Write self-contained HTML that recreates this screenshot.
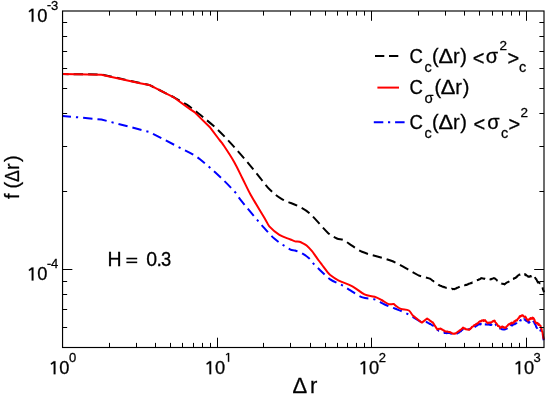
<!DOCTYPE html>
<html><head><meta charset="utf-8"><title>f(Δr)</title>
<style>
html,body{margin:0;padding:0;background:#fff;}
body{width:545px;height:399px;overflow:hidden;}
svg{display:block;will-change:transform;}
text{font-family:"Liberation Sans",sans-serif;fill:#000;stroke:#000;stroke-width:0.28px;}
</style></head><body>
<svg width="545" height="399" viewBox="0 0 545 399">
<rect x="0" y="0" width="545" height="399" fill="#fff"/>
<defs><clipPath id="cp"><rect x="62.55" y="11.0" width="482.45" height="336.5"/></clipPath></defs>

<g clip-path="url(#cp)" fill="none" stroke-width="2" stroke-linejoin="round">
<path d="M62.60,115.90 L101.40,119.50 L149.40,132.00 L190.00,152.90 C193.33,154.69 196.67,156.54 200.00,159.20 C206.73,164.57 213.47,170.64 220.20,177.00 C225.57,182.07 230.93,187.48 236.30,193.50 C237.53,194.88 238.77,197.63 240.00,199.20 C244.83,205.36 249.67,210.91 254.50,216.70 C256.40,218.98 258.30,221.31 260.20,223.40 C264.90,228.57 269.60,234.44 274.30,238.50 C279.70,243.17 285.10,246.47 290.50,249.60 C292.00,250.47 293.50,249.99 295.00,250.50 C297.53,251.36 300.07,252.28 302.60,253.70 C304.93,255.01 307.27,256.59 309.60,258.70 C310.73,259.72 311.87,261.86 313.00,263.10 C315.37,265.69 317.73,267.97 320.10,270.20 C323.47,273.37 326.83,277.01 330.20,279.30 C334.23,282.04 338.27,283.08 342.30,285.30 C345.00,286.78 347.70,288.78 350.40,290.40 C354.43,292.82 358.47,295.90 362.50,297.40 C366.53,298.90 370.57,298.11 374.60,299.40 C377.97,300.48 381.33,302.98 384.70,304.50 C388.07,306.02 391.43,307.12 394.80,308.50 C398.83,310.15 402.87,311.55 406.90,313.60 L420.00,321.30 L426.40,322.00 L426.86,322.27 L427.31,322.43 L427.77,322.68 L428.23,323.03 L428.69,323.36 L429.14,323.34 L429.60,323.84 L430.06,324.08 L430.51,324.11 L430.97,324.38 L431.43,324.62 L431.89,325.00 L432.34,325.29 L432.80,325.50 L433.25,325.69 L433.70,326.13 L434.15,326.73 L434.60,327.28 L435.05,327.68 L435.50,328.00 L435.95,328.37 L436.40,329.02 L436.85,329.32 L437.30,330.05 L437.77,330.12 L438.25,330.28 L438.72,330.68 L439.19,330.72 L439.67,331.02 L440.14,331.08 L440.61,331.27 L441.09,331.46 L441.56,331.84 L442.03,331.74 L442.51,332.25 L442.98,332.40 L443.45,332.56 L443.93,332.52 L444.40,332.81 L444.88,333.12 L445.37,333.02 L445.85,332.96 L446.33,332.81 L446.82,333.25 L447.30,332.93 L447.78,333.12 L448.27,333.12 L448.75,333.06 L449.23,333.06 L449.72,333.06 L450.20,333.18 L450.72,333.59 L451.24,333.40 L451.76,333.71 L452.28,333.84 L452.80,334.11 L453.29,333.94 L453.78,333.72 L454.27,333.49 L454.76,333.73 L455.24,333.55 L455.73,333.91 L456.22,333.58 L456.71,333.63 L457.20,333.56 L457.69,333.17 L458.18,332.90 L458.66,332.50 L459.15,332.40 L459.64,331.70 L460.12,331.47 L460.61,331.46 L461.10,331.17 L461.58,330.18 L462.05,330.03 L462.52,329.51 L463.00,328.84 L463.47,329.20 L463.95,329.35 L464.42,329.34 L464.89,329.02 L465.36,328.99 L465.84,328.93 L466.31,329.34 L466.78,329.63 L467.25,329.64 L467.73,329.65 L468.20,329.26 L468.68,329.12 L469.15,329.26 L469.62,329.02 L470.10,328.31 L470.57,328.31 L471.05,328.01 L471.52,327.71 L472.00,328.11 L472.47,328.05 L472.95,327.40 L473.42,327.33 L473.90,327.24 L474.38,326.55 L474.87,326.40 L475.35,326.66 L475.83,325.88 L476.32,325.80 L476.80,325.69 L477.28,325.43 L477.77,324.92 L478.25,324.49 L478.73,324.17 L479.22,324.39 L479.70,323.85 L480.16,323.72 L480.62,324.40 L481.08,323.80 L481.54,324.33 L482.00,324.60 L482.46,323.96 L482.92,324.60 L483.38,324.64 L483.84,324.02 L484.30,324.56 L484.76,324.39 L485.22,324.39 L485.68,324.26 L486.14,324.53 L486.60,324.46 L487.06,324.67 L487.53,324.42 L487.99,324.46 L488.45,324.08 L488.92,324.75 L489.38,324.47 L489.85,324.64 L490.31,324.96 L490.77,324.14 L491.24,324.88 L491.70,324.49 L492.22,323.84 L492.74,323.50 L493.26,323.38 L493.78,323.34 L494.30,322.33 L494.78,323.42 L495.25,323.48 L495.73,324.41 L496.20,325.39 L496.68,325.78 L497.15,326.85 L497.62,326.63 L498.10,327.42 L498.56,327.57 L499.01,328.43 L499.47,328.10 L499.93,328.54 L500.39,328.24 L500.84,328.50 L501.30,328.82 L501.76,329.17 L502.21,329.27 L502.67,329.27 L503.13,329.50 L503.59,329.27 L504.04,329.13 L504.50,329.45 L504.95,329.16 L505.40,329.28 L505.85,328.83 L506.30,328.33 L506.75,328.63 L507.20,327.41 L507.65,327.38 L508.10,326.72 L508.55,327.10 L509.00,326.19 L509.47,325.73 L509.95,325.88 L510.42,325.93 L510.89,325.25 L511.37,325.29 L511.84,324.63 L512.31,325.42 L512.79,324.94 L513.26,324.16 L513.73,324.37 L514.21,324.18 L514.68,324.23 L515.15,323.29 L515.63,323.62 L516.10,323.40 L516.56,322.89 L517.01,321.94 L517.47,322.07 L517.93,321.55 L518.39,321.37 L518.84,320.25 L519.30,320.50 L519.78,319.64 L520.27,320.46 L520.75,320.05 L521.23,320.29 L521.72,319.23 L522.20,319.75 L522.68,319.10 L523.17,319.27 L523.65,320.04 L524.13,319.17 L524.62,319.69 L525.10,319.96 L525.58,319.87 L526.05,320.72 L526.52,320.19 L527.00,321.27 L527.48,321.04 L527.95,321.18 L528.42,322.61 L528.90,322.77 L529.35,322.19 L529.80,321.87 L530.25,321.38 L530.70,322.19 L531.15,322.33 L531.60,322.14 L532.05,321.87 L532.50,321.76 L532.95,320.40 L533.40,321.39 L533.86,321.43 L534.31,322.74 L534.77,323.75 L535.23,324.27 L535.69,325.17 L536.14,326.68 L536.60,327.57 L537.12,328.09 L537.64,329.00 L538.16,328.51 L538.68,329.63 L539.20,330.25 L539.66,329.33 L540.11,330.43 L540.57,330.15 L541.03,330.99 L541.49,332.10 L541.94,331.20 L542.40,332.44 L543.05,336.34 L543.70,340.28" stroke="#0000ff" stroke-dasharray="9.4 5 9.4 5 2.2 5" stroke-dashoffset="15.4"/>
<path d="M62.60,74.10 L101.40,74.50 L149.20,84.90 L174.30,97.50 L186.40,104.40 C190.43,107.07 194.47,110.27 198.50,113.50 C204.40,118.23 210.30,122.88 216.20,128.30 C220.87,132.58 225.53,137.57 230.20,142.60 C235.27,148.07 240.33,153.83 245.40,159.80 C250.43,165.73 255.47,172.16 260.50,178.30 C263.67,182.16 266.83,186.71 270.00,189.80 C273.83,193.54 277.67,196.58 281.50,198.80 C287.23,202.12 292.97,203.40 298.70,206.40 C302.47,208.37 306.23,210.29 310.00,213.70 C316.00,219.13 322.00,227.37 328.00,232.90 C330.97,235.64 333.93,237.15 336.90,238.50 C339.07,239.48 341.23,238.99 343.40,239.90 C345.27,240.69 347.13,242.41 349.00,243.60 C353.33,246.37 357.67,250.04 362.00,251.80 C371.77,255.77 381.53,257.07 391.30,260.80 C396.73,262.87 402.17,266.29 407.60,269.20 L418.70,275.50 L429.90,278.60 L430.35,278.94 L430.81,279.18 L431.26,279.54 L431.71,279.85 L432.16,280.30 L432.62,280.58 L433.07,280.80 L433.52,281.24 L433.97,281.66 L434.43,282.03 L434.88,282.25 L435.33,282.58 L435.78,282.91 L436.24,283.24 L436.69,283.63 L437.14,283.75 L437.59,284.18 L438.05,284.51 L438.50,284.86 L438.96,285.02 L439.42,285.20 L439.88,285.66 L440.34,285.69 L440.80,285.90 L441.26,285.95 L441.72,286.16 L442.18,286.56 L442.64,286.80 L443.10,286.84 L443.56,286.83 L444.02,287.21 L444.48,287.06 L444.95,287.34 L445.41,287.56 L445.87,287.65 L446.33,287.70 L446.79,287.63 L447.25,287.78 L447.72,287.88 L448.18,287.97 L448.64,288.31 L449.10,288.41 L449.56,288.58 L450.03,288.56 L450.49,288.71 L450.95,288.65 L451.42,288.94 L451.88,288.65 L452.35,288.83 L452.81,289.18 L453.27,288.94 L453.74,289.12 L454.20,289.21 L454.66,288.88 L455.12,288.92 L455.58,288.41 L456.05,288.55 L456.51,288.25 L456.97,287.80 L457.43,287.85 L457.89,287.55 L458.35,287.27 L458.82,287.01 L459.28,286.96 L459.74,286.71 L460.20,286.37 L460.67,286.20 L461.14,286.29 L461.61,285.86 L462.08,285.79 L462.55,285.54 L463.02,285.67 L463.48,285.70 L463.95,285.33 L464.42,285.35 L464.89,285.27 L465.36,285.09 L465.83,284.80 L466.30,284.84 L466.77,284.90 L467.23,284.60 L467.70,284.24 L468.17,284.22 L468.63,283.77 L469.10,283.83 L469.57,283.65 L470.03,283.49 L470.50,283.10 L470.97,283.29 L471.43,283.10 L471.90,282.51 L472.37,282.73 L472.83,282.50 L473.30,282.06 L473.78,281.83 L474.25,281.77 L474.73,281.50 L475.21,281.22 L475.68,280.92 L476.16,280.75 L476.64,280.37 L477.11,280.20 L477.59,280.03 L478.06,280.11 L478.54,279.70 L479.02,279.31 L479.49,279.40 L479.97,279.16 L480.45,278.89 L480.92,278.26 L481.40,278.07 L481.87,278.34 L482.35,278.21 L482.82,278.55 L483.29,278.60 L483.77,278.68 L484.24,278.94 L484.71,278.75 L485.19,278.98 L485.66,279.29 L486.13,279.04 L486.61,279.25 L487.08,279.19 L487.55,279.58 L488.03,279.37 L488.50,279.61 L488.96,279.35 L489.42,279.65 L489.88,279.54 L490.35,279.33 L490.81,279.09 L491.27,279.23 L491.73,278.83 L492.19,278.63 L492.65,278.63 L493.12,278.43 L493.58,278.14 L494.04,278.10 L494.50,278.34 L494.96,278.51 L495.43,278.97 L495.89,279.32 L496.35,279.67 L496.82,280.20 L497.28,280.73 L497.75,281.01 L498.21,281.40 L498.67,282.10 L499.14,282.46 L499.60,283.09 L500.05,282.93 L500.51,283.37 L500.96,283.19 L501.42,283.58 L501.87,283.60 L502.33,283.72 L502.78,283.80 L503.24,283.99 L503.69,283.80 L504.15,284.09 L504.60,284.45 L505.07,283.93 L505.54,283.50 L506.01,283.18 L506.48,282.80 L506.95,282.43 L507.42,282.37 L507.88,282.08 L508.35,281.79 L508.82,281.56 L509.29,281.34 L509.76,281.00 L510.23,280.27 L510.70,279.92 L511.15,279.92 L511.61,279.61 L512.06,279.73 L512.52,278.99 L512.97,278.78 L513.43,278.91 L513.88,278.23 L514.34,278.55 L514.79,278.13 L515.25,277.74 L515.70,277.91 L516.16,277.29 L516.63,276.78 L517.09,276.68 L517.55,275.84 L518.02,275.51 L518.48,275.35 L518.95,274.90 L519.41,274.44 L519.87,274.63 L520.34,274.30 L520.80,273.64 L521.30,273.60 L521.80,273.78 L522.30,273.82 L522.80,273.99 L523.30,273.98 L523.80,274.29 L524.30,274.34 L524.80,274.03 L525.30,274.87 L525.80,274.52 L526.30,275.49 L526.80,275.38 L527.30,275.92 L527.80,276.10 L528.30,276.82 L528.80,276.48 L529.26,276.63 L529.73,276.71 L530.19,276.06 L530.65,276.05 L531.12,276.41 L531.58,276.26 L532.05,275.75 L532.51,275.69 L532.97,275.71 L533.44,275.00 L533.90,275.46 L534.40,276.01 L534.90,276.84 L535.40,278.15 L535.90,279.03 L536.40,279.20 L536.90,280.75 L537.40,281.22 L537.90,282.59 L538.42,282.09 L538.93,282.37 L539.45,282.87 L539.97,283.27 L540.48,283.08 L541.00,283.67 L541.50,285.14 L542.00,286.15 L542.50,287.51 L543.00,289.58 L543.50,290.61 L544.00,292.34" stroke="#000" stroke-dasharray="9.5 5" stroke-dashoffset="3.5"/>
<path d="M62.60,74.10 L101.40,74.80 L140.00,83.20 L149.20,84.90 L174.30,97.70 L190.00,109.10 L194.50,112.10 L210.40,127.80 L219.50,140.00 L222.30,143.40 C226.30,149.40 230.30,155.25 234.30,162.20 C237.03,166.95 239.77,173.05 242.50,178.50 C245.17,183.82 247.83,189.72 250.50,194.50 C255.53,203.52 260.57,211.36 265.60,219.90 C266.83,221.99 268.07,225.06 269.30,226.40 C272.67,230.06 276.03,232.82 279.40,234.90 C283.10,237.19 286.80,237.96 290.50,239.50 C292.00,240.12 293.50,241.02 295.00,241.40 C296.50,241.78 298.00,241.43 299.50,241.80 C300.70,242.10 301.90,242.76 303.10,243.40 C304.27,244.02 305.43,244.58 306.60,245.60 C308.40,247.18 310.20,249.11 312.00,251.20 C313.07,252.44 314.13,254.12 315.20,255.60 C316.37,257.22 317.53,258.91 318.70,260.50 C319.83,262.04 320.97,263.51 322.10,265.00 C323.83,267.28 325.57,269.66 327.30,271.80 C328.27,272.99 329.23,274.25 330.20,275.00 C332.90,277.09 335.60,278.93 338.30,280.30 C343.00,282.69 347.70,283.77 352.40,286.30 C356.43,288.47 360.47,292.49 364.50,294.40 C367.87,295.99 371.23,295.70 374.60,296.80 C376.93,297.56 379.27,298.79 381.60,300.00 C383.97,301.23 386.33,303.30 388.70,304.10 C390.40,304.67 392.10,303.80 393.80,304.10 C394.20,304.17 394.60,304.93 395.00,305.20 C396.93,306.53 398.87,308.16 400.80,308.90 C403.50,309.93 406.20,309.00 408.90,310.50 C410.23,311.24 411.57,314.30 412.90,315.60 L420.00,321.30 L421.90,322.60 L427.10,318.50 L427.58,318.89 L428.05,319.15 L428.53,319.48 L429.00,319.76 L429.48,320.17 L429.95,320.62 L430.43,320.99 L430.90,321.22 L431.38,321.65 L431.85,322.01 L432.32,322.15 L432.80,322.44 L433.25,323.22 L433.70,323.81 L434.15,324.60 L434.60,325.49 L435.05,326.02 L435.50,326.54 L435.95,327.47 L436.40,327.93 L436.85,328.83 L437.30,329.28 L437.76,329.42 L438.21,329.09 L438.67,328.87 L439.13,329.06 L439.59,328.73 L440.04,328.64 L440.50,328.51 L440.97,329.05 L441.45,328.97 L441.92,329.52 L442.39,329.53 L442.86,329.94 L443.34,330.41 L443.81,330.66 L444.28,330.61 L444.75,331.26 L445.23,331.27 L445.70,331.66 L446.18,331.61 L446.65,331.48 L447.12,331.53 L447.60,331.58 L448.07,331.82 L448.55,331.90 L449.02,332.13 L449.50,331.96 L449.97,332.05 L450.44,332.43 L450.91,332.76 L451.39,332.94 L451.86,333.11 L452.33,333.35 L452.80,333.81 L453.26,333.86 L453.71,333.59 L454.17,333.82 L454.63,333.69 L455.09,333.24 L455.54,333.56 L456.00,333.21 L456.48,332.89 L456.95,332.45 L457.43,332.05 L457.90,331.67 L458.38,331.46 L458.85,331.26 L459.32,330.52 L459.80,330.57 L460.26,329.95 L460.71,329.86 L461.17,329.37 L461.63,329.03 L462.09,328.55 L462.54,328.11 L463.00,327.53 L463.46,328.00 L463.91,328.23 L464.37,328.70 L464.83,328.39 L465.29,328.74 L465.74,329.22 L466.20,329.20 L466.66,329.41 L467.11,329.39 L467.57,329.34 L468.03,329.57 L468.49,329.87 L468.94,329.86 L469.40,329.70 L469.87,329.09 L470.34,329.10 L470.81,328.07 L471.29,328.12 L471.76,327.08 L472.23,326.94 L472.70,326.39 L473.16,326.41 L473.63,326.19 L474.09,325.24 L474.55,325.05 L475.02,324.87 L475.48,324.62 L475.95,324.13 L476.41,324.35 L476.87,323.52 L477.34,323.52 L477.80,322.92 L478.28,323.12 L478.75,322.05 L479.23,321.76 L479.70,321.49 L480.18,321.28 L480.65,321.49 L481.12,321.36 L481.60,320.41 L482.09,320.34 L482.57,320.41 L483.06,320.91 L483.54,320.12 L484.03,320.91 L484.51,320.71 L485.00,320.11 L485.52,320.79 L486.04,321.55 L486.56,322.11 L487.08,322.39 L487.60,323.34 L488.10,322.53 L488.60,322.83 L489.10,322.72 L489.60,322.52 L490.10,322.89 L490.60,322.28 L491.10,322.59 L491.56,322.17 L492.01,322.01 L492.47,321.66 L492.93,320.97 L493.39,321.22 L493.84,320.80 L494.30,320.46 L494.76,320.83 L495.21,322.14 L495.67,322.60 L496.13,322.96 L496.59,323.68 L497.04,324.26 L497.50,324.91 L497.96,326.02 L498.41,325.89 L498.87,326.15 L499.33,326.19 L499.79,327.35 L500.24,327.93 L500.70,327.55 L501.18,327.49 L501.65,327.06 L502.12,326.38 L502.60,326.46 L503.12,327.27 L503.64,326.99 L504.16,327.81 L504.68,327.45 L505.20,327.86 L505.68,327.90 L506.15,327.16 L506.62,326.36 L507.10,325.91 L507.57,325.80 L508.05,324.87 L508.52,324.50 L509.00,324.38 L509.49,323.71 L509.98,324.28 L510.46,324.15 L510.95,322.98 L511.44,322.93 L511.92,322.55 L512.41,323.40 L512.90,323.01 L513.35,322.54 L513.80,322.60 L514.25,321.28 L514.70,321.51 L515.15,320.82 L515.60,321.09 L516.05,320.30 L516.50,319.96 L516.95,320.49 L517.40,319.43 L517.92,318.79 L518.44,318.20 L518.96,317.98 L519.48,316.45 L520.00,316.05 L520.50,316.62 L521.00,315.69 L521.50,315.90 L522.00,315.17 L522.50,315.13 L522.96,315.32 L523.41,316.46 L523.87,316.27 L524.33,316.82 L524.79,316.97 L525.24,316.53 L525.70,317.11 L526.20,318.35 L526.70,319.16 L527.20,319.14 L527.70,320.59 L528.20,320.05 L528.70,320.21 L529.20,319.02 L529.70,318.76 L530.20,319.14 L530.66,318.04 L531.11,318.53 L531.57,318.72 L532.03,318.87 L532.49,317.64 L532.94,317.93 L533.40,318.05 L533.90,318.94 L534.40,319.60 L534.90,321.54 L535.40,322.08 L535.90,323.07 L536.40,322.89 L536.90,322.71 L537.40,323.79 L537.90,323.21 L538.42,324.95 L538.94,324.12 L539.46,324.97 L539.98,325.40 L540.50,325.69 L540.98,327.98 L541.45,328.51 L541.92,331.21 L542.40,331.84 L543.05,335.60 L543.70,339.38" stroke="#ff0000"/>
</g>
<path d="M109.50,347.5 v-4.6 M109.50,11.0 v4.6 M136.50,347.5 v-4.6 M136.50,11.0 v4.6 M155.50,347.5 v-4.6 M155.50,11.0 v4.6 M170.50,347.5 v-4.6 M170.50,11.0 v4.6 M182.50,347.5 v-4.6 M182.50,11.0 v4.6 M193.50,347.5 v-4.6 M193.50,11.0 v4.6 M202.50,347.5 v-4.6 M202.50,11.0 v4.6 M210.50,347.5 v-4.6 M210.50,11.0 v4.6 M217.50,347.5 v-9.8 M217.50,11.0 v9.8 M263.50,347.5 v-4.6 M263.50,11.0 v4.6 M290.50,347.5 v-4.6 M290.50,11.0 v4.6 M310.50,347.5 v-4.6 M310.50,11.0 v4.6 M325.50,347.5 v-4.6 M325.50,11.0 v4.6 M337.50,347.5 v-4.6 M337.50,11.0 v4.6 M347.50,347.5 v-4.6 M347.50,11.0 v4.6 M356.50,347.5 v-4.6 M356.50,11.0 v4.6 M364.50,347.5 v-4.6 M364.50,11.0 v4.6 M371.50,347.5 v-9.8 M371.50,11.0 v9.8 M418.50,347.5 v-4.6 M418.50,11.0 v4.6 M445.50,347.5 v-4.6 M445.50,11.0 v4.6 M464.50,347.5 v-4.6 M464.50,11.0 v4.6 M479.50,347.5 v-4.6 M479.50,11.0 v4.6 M492.50,347.5 v-4.6 M492.50,11.0 v4.6 M502.50,347.5 v-4.6 M502.50,11.0 v4.6 M511.50,347.5 v-4.6 M511.50,11.0 v4.6 M519.50,347.5 v-4.6 M519.50,11.0 v4.6 M526.50,347.5 v-9.8 M526.50,11.0 v9.8 M62.55,327.50 h4.6 M544.0,327.50 h-4.6 M62.55,309.50 h4.6 M544.0,309.50 h-4.6 M62.55,294.50 h4.6 M544.0,294.50 h-4.6 M62.55,281.50 h4.6 M544.0,281.50 h-4.6 M62.55,269.50 h9.8 M544.0,269.50 h-9.8 M62.55,191.50 h4.6 M544.0,191.50 h-4.6 M62.55,146.50 h4.6 M544.0,146.50 h-4.6 M62.55,113.50 h4.6 M544.0,113.50 h-4.6 M62.55,88.50 h4.6 M544.0,88.50 h-4.6 M62.55,68.50 h4.6 M544.0,68.50 h-4.6 M62.55,51.50 h4.6 M544.0,51.50 h-4.6 M62.55,36.50 h4.6 M544.0,36.50 h-4.6 M62.55,22.50 h4.6 M544.0,22.50 h-4.6" stroke="#000" stroke-width="1" fill="none"/>
<rect x="62.55" y="11.0" width="481.45" height="336.5" fill="none" stroke="#000" stroke-width="1.15"/>
<path d="M53.70,361.20 H55.45 V374.20 H53.70 V363.20 L51.15,364.70 L50.70,363.45 Z" fill="#000" stroke="#000" stroke-width="0.2"/><text x="59.30" y="374.20" font-size="18.3">0</text><text x="69.00" y="362.20" font-size="13">0</text>
<path d="M209.42,361.20 H211.17 V374.20 H209.42 V363.20 L206.87,364.70 L206.42,363.45 Z" fill="#000" stroke="#000" stroke-width="0.2"/><text x="215.02" y="374.20" font-size="18.3">0</text><path d="M227.92,352.90 H229.17 V361.80 H227.92 V354.27 L226.22,355.30 L225.91,354.44 Z" fill="#000" stroke="#000" stroke-width="0.2"/>
<path d="M363.43,361.20 H365.18 V374.20 H363.43 V363.20 L360.88,364.70 L360.43,363.45 Z" fill="#000" stroke="#000" stroke-width="0.2"/><text x="369.03" y="374.20" font-size="18.3">0</text><text x="378.63" y="362.20" font-size="13">2</text>
<path d="M518.45,361.20 H520.20 V374.20 H518.45 V363.20 L515.90,364.70 L515.45,363.45 Z" fill="#000" stroke="#000" stroke-width="0.2"/><text x="524.05" y="374.20" font-size="18.3">0</text><text x="533.50" y="362.20" font-size="13">3</text>
<path d="M31.70,8.80 H33.45 V21.80 H31.70 V10.80 L29.15,12.30 L28.70,11.05 Z" fill="#000" stroke="#000" stroke-width="0.2"/><text x="37.30" y="21.80" font-size="18.3">0</text><text x="51.05" y="9.80" font-size="13">3</text>
<rect x="47.3" y="5.05" width="3.5" height="1.25" fill="#000"/>
<path d="M31.70,267.44 H33.45 V280.44 H31.70 V269.44 L29.15,270.94 L28.70,269.69 Z" fill="#000" stroke="#000" stroke-width="0.2"/><text x="37.30" y="280.44" font-size="18.3">0</text><text x="51.05" y="268.44" font-size="13">4</text>
<rect x="47.3" y="263.69" width="3.5" height="1.25" fill="#000"/>
<text transform="translate(19.3,199) rotate(-90)" font-size="20"><tspan x="0">f</tspan><tspan x="10.4">(</tspan><tspan x="17.0" textLength="11.8" lengthAdjust="spacingAndGlyphs">Δ</tspan><tspan x="28.9">r</tspan><tspan x="37.0">)</tspan></text>
<text x="292.6" y="393.3" font-size="22">Δ</text><text x="310" y="393.3" font-size="22">r</text>
<text y="265.9" font-size="19.5"><tspan x="107.6">H</tspan><tspan x="146.2">0</tspan><tspan x="156.6">.</tspan><tspan x="161.0" textLength="10.2" lengthAdjust="spacingAndGlyphs">3</tspan></text>
<rect x="126.4" y="257.75" width="10.8" height="1.6" fill="#000"/><rect x="126.4" y="261.55" width="10.8" height="1.6" fill="#000"/>
<g fill="none" stroke-width="2">
<path d="M375,56 H399" stroke="#000" stroke-dasharray="9.3 4.7"/>
<path d="M377.4,87.6 H399" stroke="#ff0000"/>
<path d="M373.8,122.2 H405" stroke="#0000ff" stroke-dasharray="9.5 4.7 2.2 4.9"/>
</g>
<text x="409.5" y="63.2" font-size="20" textLength="13.4" lengthAdjust="spacingAndGlyphs">C</text><text x="424.6" y="72.1" font-size="14.5">c</text><text x="432.0" y="63.2" font-size="20">(</text><text x="438.4" y="63.2" font-size="20" textLength="14.6" lengthAdjust="spacingAndGlyphs">Δ</text><text x="452.9" y="63.2" font-size="20">r</text><text x="460.3" y="63.2" font-size="20">)</text><text x="472.8" y="64.8" font-size="20">&lt;</text><text x="485.8" y="63.2" font-size="20">σ</text><text x="499.4" y="49.8" font-size="13.5">2</text><text x="507.4" y="64.8" font-size="20">&gt;</text><text x="518.9" y="72.1" font-size="14.5">c</text>
<text x="409.5" y="94.3" font-size="20" textLength="13.4" lengthAdjust="spacingAndGlyphs">C</text><text x="424.4" y="102.9" font-size="14.5">σ</text><text x="434.4" y="94.3" font-size="20">(</text><text x="440.8" y="94.3" font-size="20" textLength="14.6" lengthAdjust="spacingAndGlyphs">Δ</text><text x="455.3" y="94.3" font-size="20">r</text><text x="462.7" y="94.3" font-size="20">)</text>
<text x="409.5" y="129.4" font-size="20" textLength="13.4" lengthAdjust="spacingAndGlyphs">C</text><text x="424.6" y="138.3" font-size="14.5">c</text><text x="432.0" y="129.4" font-size="20">(</text><text x="438.4" y="129.4" font-size="20" textLength="14.6" lengthAdjust="spacingAndGlyphs">Δ</text><text x="452.9" y="129.4" font-size="20">r</text><text x="460.3" y="129.4" font-size="20">)</text><text x="473.6" y="131.0" font-size="20">&lt;</text><text x="487.3" y="129.4" font-size="20">σ</text><text x="500.9" y="138.3" font-size="14.5">c</text><text x="508.6" y="131.0" font-size="20">&gt;</text><text x="520.6" y="116.7" font-size="13.5">2</text>
</svg></body></html>
